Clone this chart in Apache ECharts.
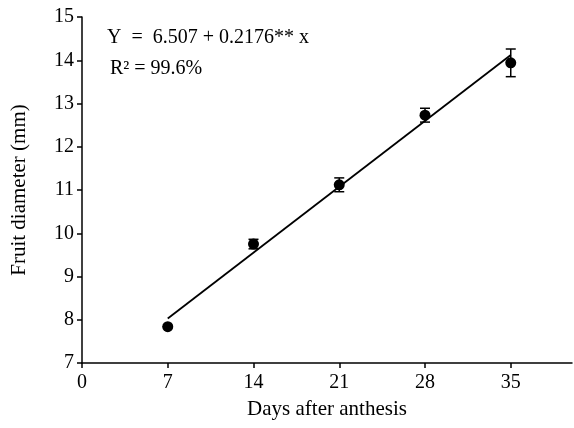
<!DOCTYPE html>
<html>
<head>
<meta charset="utf-8">
<script src="https://cdn.jsdelivr.net/npm/echarts@6/dist/echarts.min.js"></script>
<style>html,body{margin:0;padding:0;background:#fff;}#c{width:574px;height:428px;}</style>
</head>
<body>
<div id="c"></div>
<script>
var days = [7, 14, 21, 28, 35];
var diameter = [7.84, 9.75, 11.12, 12.73, 13.94];
var errors = [0, 0.11, 0.16, 0.16, 0.32];
var intercept = 6.507;
var slope = 0.2176;
var xTicks = [0, 7, 14, 21, 28, 35];
var eqText = 'Y  =  6.507 + 0.2176** x';
var r2Text = 'R\u00B2 = 99.6%';

var font = '"Liberation Serif", "Times New Roman", serif';
var pts = days.map(function (d, i) { return [d, diameter[i]]; });
var errData = days.map(function (d, i) { return [d, diameter[i] - errors[i], diameter[i] + errors[i]]; });
var fitLine = [days[0], days[days.length - 1]].map(function (d) { return [d, intercept + slope * d]; });

var chart = echarts.init(document.getElementById('c'));
chart.setOption({
  animation: false,
  backgroundColor: '#fff',
  grid: { left: 82, right: 2, top: 17, bottom: 65, containLabel: false },
  xAxis: {
    type: 'value', min: 0, max: 40,
    splitLine: { show: false },
    axisLine: { lineStyle: { color: '#000', width: 1.5 } },
    axisTick: { customValues: xTicks, length: 5, lineStyle: { color: '#000', width: 1.5 } },
    axisLabel: { customValues: xTicks, color: '#000', fontFamily: font, fontSize: 20, margin: 10 },
    name: 'Days after anthesis', nameLocation: 'middle', nameGap: 36,
    nameTextStyle: { color: '#000', fontFamily: font, fontSize: 21 }
  },
  yAxis: {
    type: 'value', min: 7, max: 15, interval: 1,
    splitLine: { show: false },
    axisLine: { show: true, lineStyle: { color: '#000', width: 1.5 } },
    axisTick: { show: true, length: 5, lineStyle: { color: '#000', width: 1.5 } },
    axisLabel: { color: '#000', fontFamily: font, fontSize: 20, margin: 8 },
    name: 'Fruit diameter (mm)', nameLocation: 'middle', nameGap: 52,
    nameTextStyle: { color: '#000', fontFamily: font, fontSize: 21 }
  },
  graphic: [
    { type: 'text', left: 107, top: 28, style: { text: eqText, font: '20px ' + font, fill: '#000' } },
    { type: 'text', left: 110, top: 59, style: { text: r2Text, font: '20px ' + font, fill: '#000' } }
  ],
  series: [
    {
      type: 'line', data: fitLine, symbol: 'none',
      lineStyle: { color: '#000', width: 1.8 }, z: 2
    },
    {
      type: 'custom', data: errData, z: 3,
      renderItem: function (params, api) {
        var x = api.value(0);
        var lo = api.coord([x, api.value(1)]);
        var hi = api.coord([x, api.value(2)]);
        var w = 5;
        var st = { stroke: '#000', lineWidth: 1.5 };
        return {
          type: 'group',
          children: [
            { type: 'line', shape: { x1: lo[0], y1: lo[1], x2: hi[0], y2: hi[1] }, style: st },
            { type: 'line', shape: { x1: lo[0] - w, y1: lo[1], x2: lo[0] + w, y2: lo[1] }, style: st },
            { type: 'line', shape: { x1: hi[0] - w, y1: hi[1], x2: hi[0] + w, y2: hi[1] }, style: st }
          ]
        };
      }
    },
    {
      type: 'scatter', data: pts, symbol: 'circle', symbolSize: 11,
      itemStyle: { color: '#000', opacity: 1 }, z: 4
    }
  ]
});
</script>
</body>
</html>
